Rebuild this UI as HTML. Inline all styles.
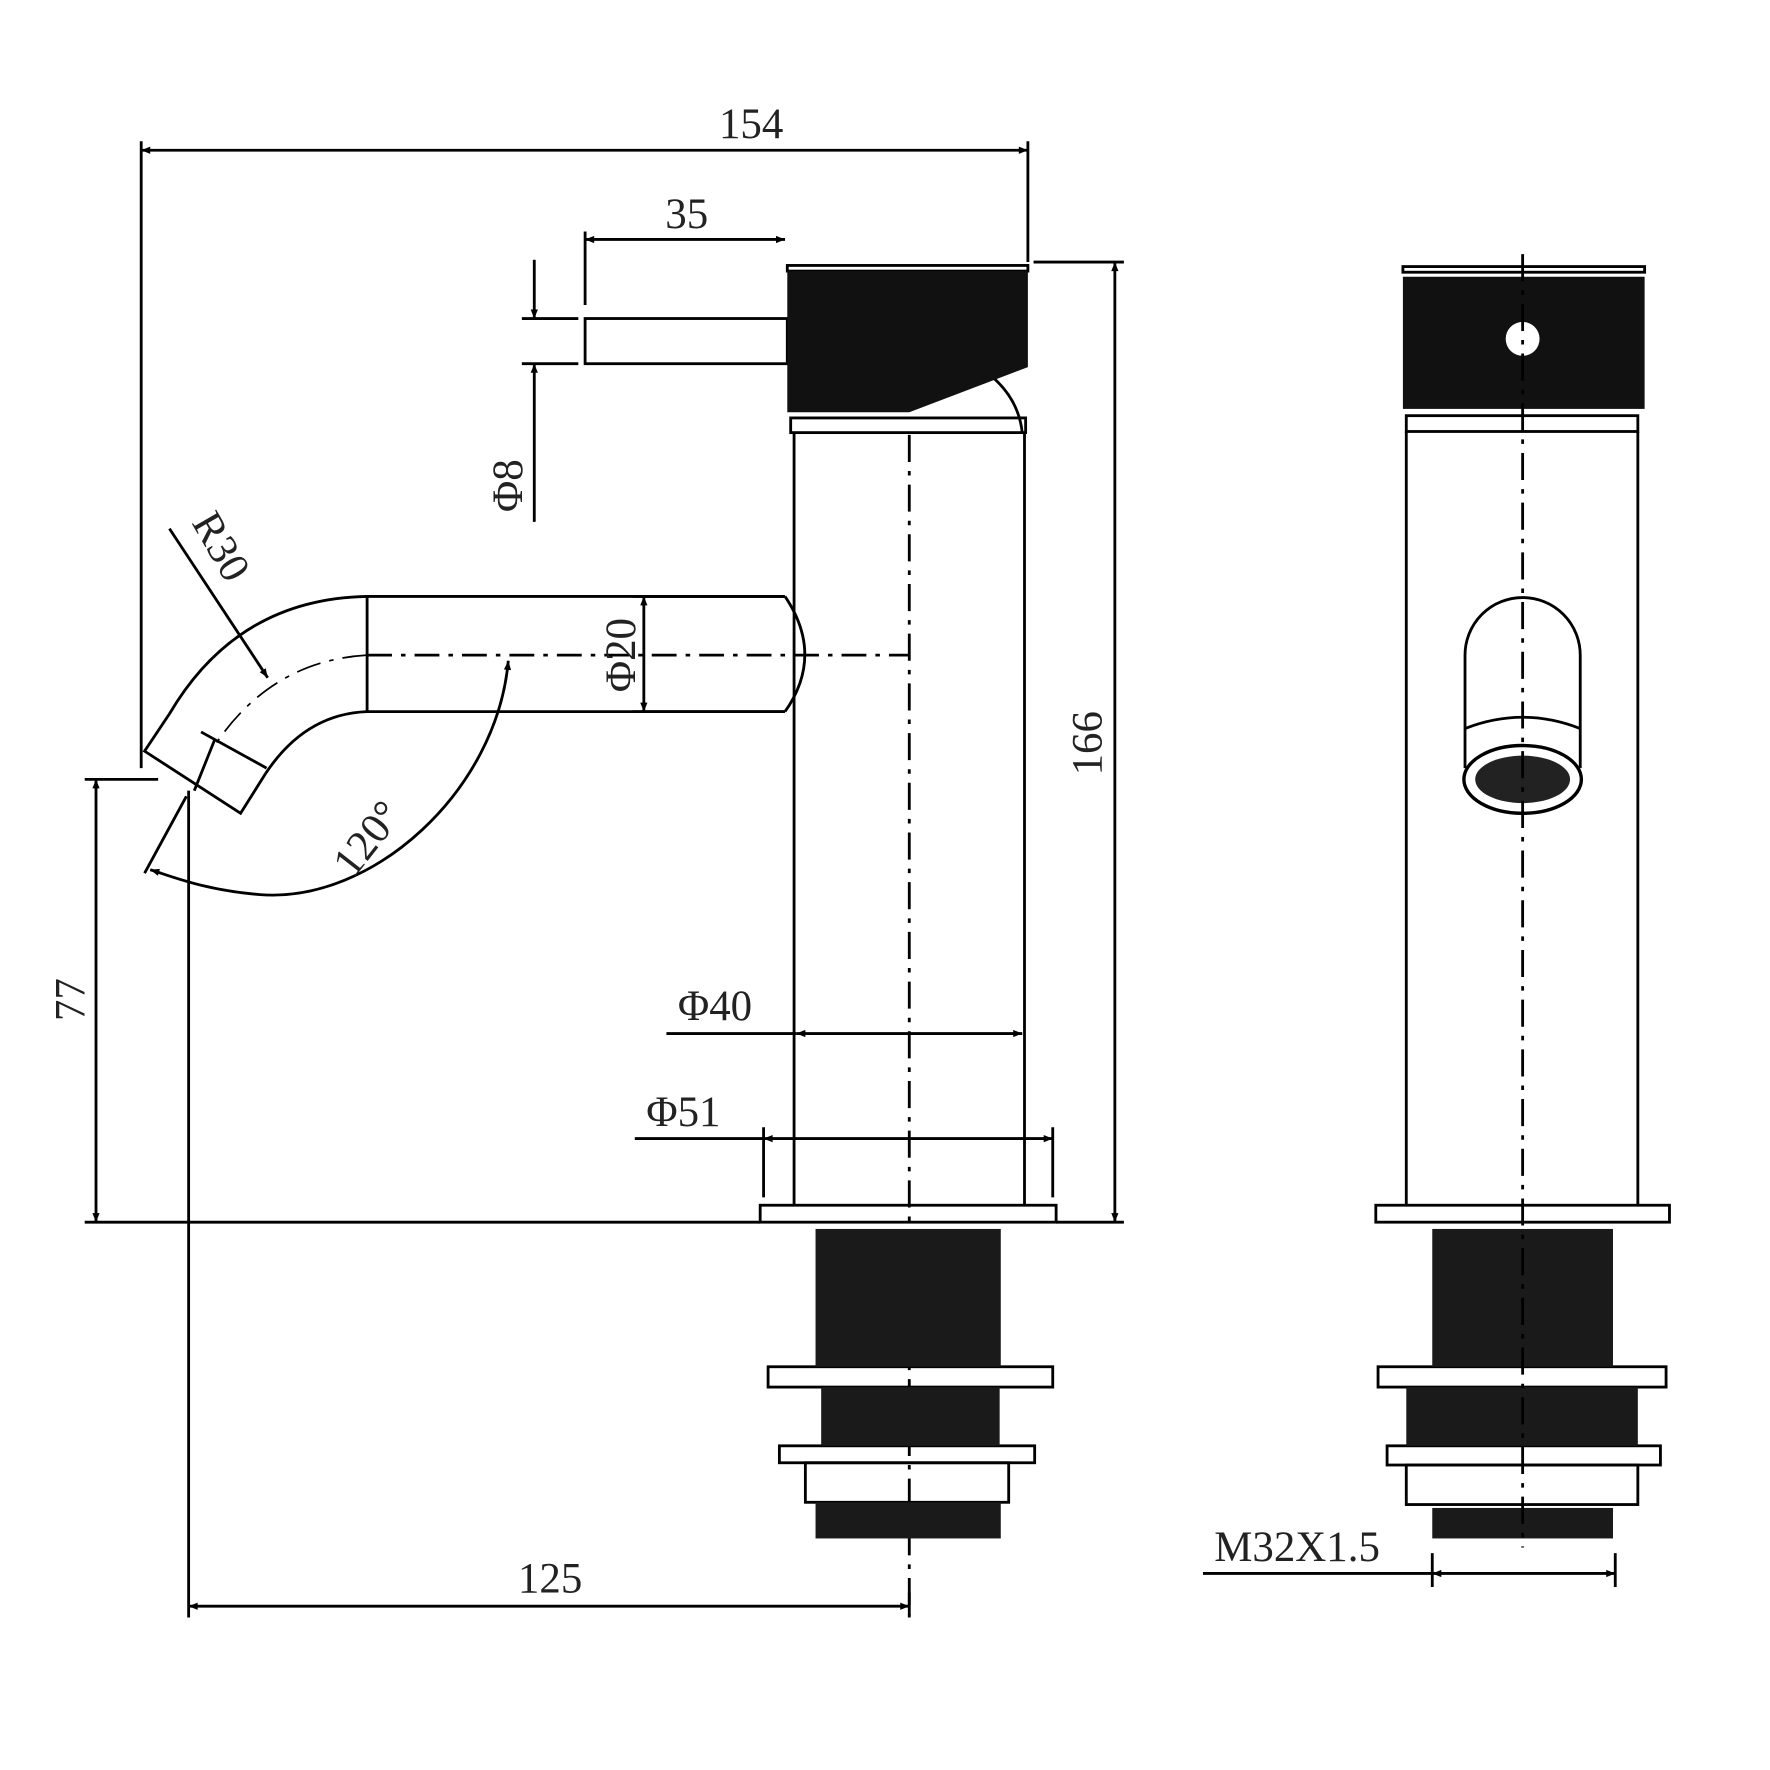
<!DOCTYPE html>
<html><head><meta charset="utf-8"><style>
html,body{margin:0;padding:0;background:#fff}
svg{display:block}
text{font-family:"Liberation Serif",serif;font-size:38px;fill:#222}
</style></head><body>
<svg width="1770" height="1770" viewBox="0 0 1567 1567" xmlns="http://www.w3.org/2000/svg">
<defs>
<marker id="a" viewBox="0 0 10 10" refX="10" refY="5" markerWidth="18" markerHeight="8" orient="auto-start-reverse" markerUnits="userSpaceOnUse"><path d="M0,1 L10,5 L0,9 z" fill="#000"/></marker>
</defs>
<g stroke="#000" stroke-width="2.5" fill="none">
<line x1="125" y1="125" x2="125" y2="680"/>
<line x1="910" y1="125" x2="910" y2="232"/>
<line x1="125" y1="133" x2="910" y2="133" marker-start="url(#a)" marker-end="url(#a)"/>
<line x1="518" y1="205" x2="518" y2="270"/>
<line x1="518" y1="212" x2="695" y2="212" marker-start="url(#a)" marker-end="url(#a)"/>
<line x1="462" y1="282" x2="512" y2="282"/>
<line x1="462" y1="322" x2="512" y2="322"/>
<line x1="473" y1="230" x2="473" y2="282" marker-end="url(#a)"/>
<line x1="473" y1="462" x2="473" y2="322" marker-end="url(#a)"/>
<line x1="915" y1="232" x2="995" y2="232"/>
<line x1="935" y1="1082" x2="995" y2="1082"/>
<line x1="987" y1="232" x2="987" y2="1082" marker-start="url(#a)" marker-end="url(#a)"/>
<line x1="570" y1="528" x2="570" y2="630" marker-start="url(#a)" marker-end="url(#a)"/>
<line x1="560" y1="528" x2="695" y2="528"/>
<line x1="560" y1="630" x2="695" y2="630"/>
<line x1="590" y1="915" x2="705" y2="915"/>
<line x1="705" y1="915" x2="905" y2="915" marker-start="url(#a)" marker-end="url(#a)"/>
<line x1="562" y1="1008" x2="676" y2="1008"/>
<line x1="676" y1="1008" x2="932" y2="1008" marker-start="url(#a)" marker-end="url(#a)"/>
<line x1="676" y1="998" x2="676" y2="1060"/>
<line x1="932" y1="998" x2="932" y2="1060"/>
<line x1="75" y1="690" x2="140" y2="690"/>
<line x1="75" y1="1082" x2="673" y2="1082"/>
<line x1="85" y1="690" x2="85" y2="1082" marker-start="url(#a)" marker-end="url(#a)"/>
<line x1="167" y1="700" x2="167" y2="1432"/>
<line x1="805" y1="1410" x2="805" y2="1432"/>
<line x1="167" y1="1422" x2="805" y2="1422" marker-start="url(#a)" marker-end="url(#a)"/>
<line x1="150" y1="468" x2="237" y2="600" marker-end="url(#a)"/>
<line x1="128" y1="773" x2="165" y2="705"/>
<path d="M450,585 C440,700 330,800 230,792 C180,788 150,775 133,770" marker-start="url(#a)" marker-end="url(#a)"/>
<path d="M695,528 L325,528 Q210,530 150,632"/>
<path d="M695,630 L325,630 Q270,632 235,685"/>
<path d="M150,632 L128,665 L213,720 L235,685"/>
<line x1="178" y1="648" x2="236" y2="680"/>
<line x1="190" y1="655" x2="172" y2="700"/>
<line x1="325" y1="528" x2="325" y2="630"/>
<path d="M695,528 Q730,580 695,630"/>
<path d="M325,580 Q240,585 190,660" stroke-width="1.5" stroke-dasharray="22,8,4,8"/>
<line x1="325" y1="580" x2="805" y2="580" stroke-dasharray="22,8,4,8"/>
<line x1="703" y1="383" x2="703" y2="1067"/>
<line x1="907" y1="383" x2="907" y2="1067"/>
<rect x="697" y="235" width="213" height="5"/>
<rect x="700" y="370" width="208" height="13"/>
<path d="M880,335 Q902,355 905,383"/>
<rect x="518" y="282" width="179" height="40"/>
<rect x="673" y="1067" width="262" height="15"/>
<rect x="680" y="1210" width="252" height="18"/>
<rect x="690" y="1280" width="226" height="15"/>
<rect x="713" y="1295" width="180" height="35"/>
<line x1="805" y1="385" x2="805" y2="1430" stroke-dasharray="24,8,4,8"/>
</g>
<path d="M697,240 H910 V325 L805,365 H697 Z" fill="#111"/>
<rect x="722" y="1088" width="164" height="122" fill="#1a1a1a"/>
<rect x="727" y="1228" width="158" height="52" fill="#1a1a1a"/>
<rect x="722" y="1330" width="164" height="32" fill="#1a1a1a"/>
<g stroke="#000" stroke-width="2.5" fill="none">
<rect x="1242" y="236" width="214" height="5"/>
<rect x="1245" y="368" width="205" height="14"/>
<line x1="1245" y1="382" x2="1245" y2="1067"/>
<line x1="1450" y1="382" x2="1450" y2="1067"/>
<path d="M1297,680 L1297,580 A51,51 0 0 1 1399,580 L1399,680"/>
<path d="M1297,645 Q1348,625 1399,645"/>
<rect x="1218" y="1067" width="260" height="15"/>
<rect x="1220" y="1210" width="255" height="18"/>
<rect x="1228" y="1280" width="242" height="17"/>
<rect x="1245" y="1297" width="205" height="35"/>
<line x1="1065" y1="1393" x2="1268" y2="1393"/>
<line x1="1268" y1="1393" x2="1430" y2="1393" marker-start="url(#a)" marker-end="url(#a)"/>
<line x1="1268" y1="1375" x2="1268" y2="1405"/>
<line x1="1430" y1="1375" x2="1430" y2="1405"/>
</g>
<rect x="1242" y="245" width="214" height="117" fill="#111"/>
<circle cx="1348" cy="300" r="15" fill="#fff"/>
<ellipse cx="1348" cy="690" rx="52" ry="30" fill="#fff" stroke="#000" stroke-width="3"/>
<ellipse cx="1348" cy="690" rx="42" ry="21" fill="#222"/>
<rect x="1268" y="1088" width="160" height="122" fill="#1a1a1a"/>
<rect x="1245" y="1228" width="205" height="52" fill="#1a1a1a"/>
<rect x="1268" y="1335" width="160" height="27" fill="#1a1a1a"/>
<line x1="1348" y1="225" x2="1348" y2="1370" stroke="#000" stroke-width="2.5" stroke-dasharray="24,8,4,8"/>
<text x="665" y="122" text-anchor="middle">154</text>
<text x="608" y="202" text-anchor="middle">35</text>
<text transform="translate(462,430) rotate(-90)" text-anchor="middle">Φ8</text>
<text transform="translate(975,658) rotate(-90)" text-anchor="middle">166</text>
<text transform="translate(562,580) rotate(-90)" text-anchor="middle">Φ20</text>
<text x="633" y="903" text-anchor="middle">Φ40</text>
<text x="605" y="997" text-anchor="middle">Φ51</text>
<text transform="translate(75,885) rotate(-90)" text-anchor="middle">77</text>
<text x="487" y="1410" text-anchor="middle">125</text>
<text transform="translate(185,490) rotate(60)" text-anchor="middle">R30</text>
<text transform="translate(335,750) rotate(-52)" text-anchor="middle">120°</text>
<text x="1075" y="1382">M32X1.5</text>
</svg>
</body></html>
